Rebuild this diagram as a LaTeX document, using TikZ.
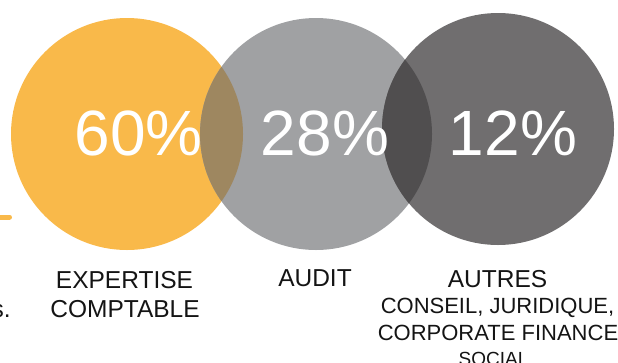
\documentclass[tikz,border=0pt]{standalone}
\usepackage{fontspec}
\setmainfont{Liberation Sans}
\definecolor{corange}{RGB}{249,185,74}
\definecolor{cgray}{RGB}{160,161,163}
\definecolor{cdark}{RGB}{112,110,111}
\definecolor{covlA}{RGB}{158,135,96}
\definecolor{covlB}{RGB}{80,78,79}
\definecolor{ctext}{RGB}{20,20,20}
\begin{document}
\begin{tikzpicture}[x=1pt,y=-1pt,
  disc/.style={circle,inner sep=0pt,minimum size=232pt},
  pct/.style={text=white,inner sep=0pt,anchor=base,font=\fontsize{64}{64}\selectfont},
  lbl/.style={text=ctext,inner sep=0pt,anchor=base,font=\fontsize{24.5}{24.5}\selectfont},
  sublbl/.style={text=ctext,inner sep=0pt,anchor=base,font=\fontsize{22}{22}\selectfont}]
\useasboundingbox (0,0) rectangle (618,362);
% circles
\node[disc,fill=corange] (c1) at (127,134) {};
\node[disc,fill=cgray] (c2) at (316,134) {};
\begin{scope}
  \clip (127,134) circle[radius=116pt];
  \fill[covlA] (316,134) circle[radius=116pt];
\end{scope}
\node[disc,fill=cdark] (c3) at (498,129) {};
\begin{scope}
  \clip (316,134) circle[radius=116pt];
  \fill[covlB] (498,129) circle[radius=116pt];
\end{scope}
% percentages
\node[pct] (p1) at (138.5,155) {60\%};
\node[pct] (p2) at (325,155) {28\%};
\node[pct] (p3) at (513,155) {12\%};
% labels
\node[lbl] (l1a) at (124.5,288) {EXPERTISE};
\node[lbl] (l1b) at (125,317) {COMPTABLE};
\node[lbl] (l2) at (315,286) {AUDIT};
\node[lbl] (l3) at (497.5,287) {AUTRES};
\node[sublbl] (l3a) at (497.5,313) {CONSEIL, JURIDIQUE,};
\node[sublbl] (l3b) at (498,340) {CORPORATE FINANCE};
\node[sublbl,font=\fontsize{19}{19}\selectfont] (l3c) at (493.5,365) {SOCIAL};
% left fragment
\node[lbl,anchor=base east] (frag) at (11,317) {s.};
\coordinate (ls) at (-6,217);
\coordinate (le) at (9.5,217);
\draw[corange,line width=5pt,line cap=round] (ls) -- (le);
\end{tikzpicture}
\end{document}
